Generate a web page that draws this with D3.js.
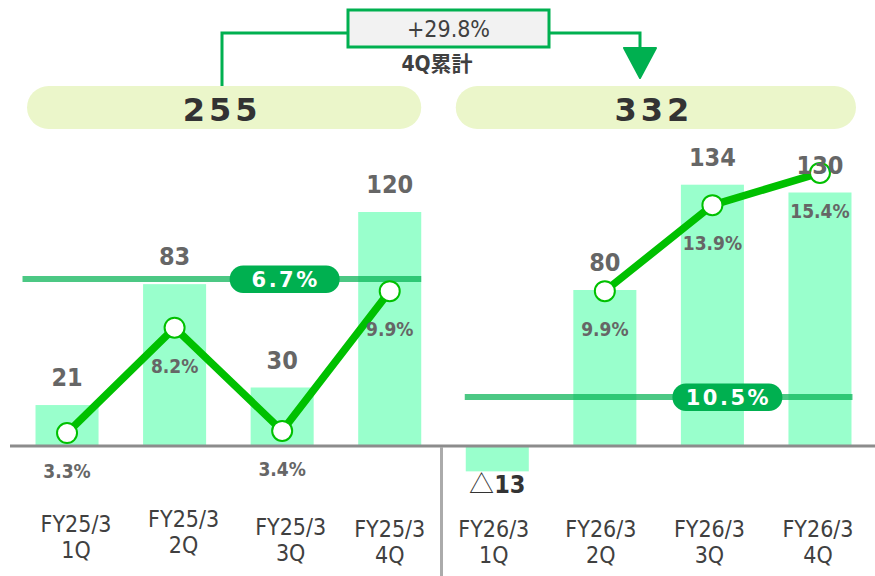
<!DOCTYPE html>
<html>
<head>
<meta charset="utf-8">
<script src="https://cdn.jsdelivr.net/npm/d3@7"></script>
<style>
  html, body { margin: 0; padding: 0; background: #fff; }
  svg { display: block; }
  .cond { font-family: "DejaVu Sans Condensed", "DejaVu Sans", sans-serif; font-stretch: condensed; }
</style>
</head>
<body>
<svg id="chart" width="875" height="576"></svg>
<script>
// ---------------- data ----------------
const periods  = ["FY25/3", "FY25/3", "FY25/3", "FY25/3", "FY26/3", "FY26/3", "FY26/3", "FY26/3"];
const quarters = ["1Q", "2Q", "3Q", "4Q", "1Q", "2Q", "3Q", "4Q"];
const profit   = [21, 83, 30, 120, -13, 80, 134, 130];
const margin   = [3.3, 8.2, 3.4, 9.9, null, 9.9, 13.9, 15.4];
const panelTotals    = [255, 332];
const panelAvgMargin = [6.7, 10.5];
const growthText = "+29.8%";
const cumText    = "4Q累計";

// ---------------- layout ----------------
const W = 875, H = 576;
const green = "#00b050", lineGreen = "#00c000", barColor = "#99ffcc";
const labelDx = [9, 9, 8.5, 0, -3.5, -4, -3, -2];
const labelDy = [86, 80.5, 88.5, 90.5, 90.5, 90.5, 90.5, 90.5];
const avgLineY = [279, 397];

const svg = d3.select("#chart");
const keys = profit.map((d, i) => i);

const x = d3.scaleBand().domain(keys).range([13.25, 873.75]).paddingInner(0.414).paddingOuter(0.207);
const yBar = d3.scaleLinear().domain([0, 140]).range([446, 173]);
const yPct = d3.scaleLinear().domain([0, 16]).range([504, 160]);
const cx = i => x(i) + x.bandwidth() / 2;
const y0 = yBar(0);

const panels = [[0, 1, 2, 3], [4, 5, 6, 7]];

// ---------------- banner pills ----------------
panels.forEach((p, k) => {
  const x1 = x(p[0]) - (k === 0 ? 8.5 : 10);
  const x2 = x(p[3]) + x.bandwidth() + (k === 0 ? 0 : 4.5);
  svg.append("rect").attr("x", x1).attr("y", 86).attr("width", x2 - x1).attr("height", 43)
    .attr("rx", 21.5).attr("fill", "#ebf6ca");
  svg.append("text").attr("x", (x1 + x2) / 2 - 2).attr("y", 121)
    .attr("text-anchor", "middle").attr("font-family", "DejaVu Sans, sans-serif")
    .attr("font-weight", "bold").attr("font-size", 32).attr("letter-spacing", 4)
    .attr("fill", "#333").text(panelTotals[k]);
});

// ---------------- top connector ----------------
const boxX1 = 348, boxX2 = 549, connY = 33;
const leftX = 222, rightX = 640;
svg.append("path")
  .attr("d", `M${leftX},86 V${connY} H${boxX1} M${boxX2},${connY} H${rightX} V50`)
  .attr("fill", "none").attr("stroke", green).attr("stroke-width", 3);
svg.append("path")
  .attr("d", `M${rightX - 16},48 L${rightX + 16},48 L${rightX},78 Z`)
  .attr("fill", green).attr("stroke", green).attr("stroke-width", 2).attr("stroke-linejoin", "round");
svg.append("rect").attr("x", boxX1).attr("y", 10).attr("width", boxX2 - boxX1).attr("height", 37)
  .attr("fill", "#f2f2f2").attr("stroke", green).attr("stroke-width", 3);
svg.append("text").attr("class", "cond").attr("x", (boxX1 + boxX2) / 2).attr("y", 37)
  .attr("text-anchor", "middle").attr("font-size", 23).attr("fill", "#404040").text(growthText);
svg.append("text").attr("x", 437).attr("y", 71).attr("text-anchor", "middle")
  .attr("font-family", "'DejaVu Sans Condensed', 'Noto Sans CJK JP', sans-serif")
  .attr("font-weight", "bold").attr("font-size", 21).attr("fill", "#404040").text(cumText);

// ---------------- bars ----------------
svg.append("g").selectAll("rect").data(profit).join("rect")
  .attr("x", (d, i) => x(i))
  .attr("width", x.bandwidth())
  .attr("y", d => d >= 0 ? yBar(d) : y0)
  .attr("height", d => Math.abs(yBar(d) - y0))
  .attr("fill", barColor);

// ---------------- average lines + pills ----------------
panels.forEach((p, k) => {
  const ly = avgLineY[k];
  const lx1 = k === 0 ? x(p[0]) - 13 : x(p[0]) - 1;
  const lx2 = x(p[3]) + x.bandwidth() + (k === 0 ? 0 : 1);
  svg.append("line").attr("x1", lx1).attr("x2", lx2).attr("y1", ly).attr("y2", ly)
    .attr("stroke", green).attr("stroke-opacity", 0.7).attr("stroke-width", 6);
  const pcx = cx(p[2]) + (k === 0 ? 2.5 : 15);
  svg.append("rect").attr("x", pcx - 55).attr("y", ly - 13.5).attr("width", 110).attr("height", 27.5)
    .attr("rx", 13.5).attr("fill", green);
  svg.append("text").attr("x", pcx + 1).attr("y", ly + 8)
    .attr("text-anchor", "middle").attr("font-family", "DejaVu Sans, sans-serif")
    .attr("font-weight", "bold").attr("font-size", 21).attr("letter-spacing", 2.5)
    .attr("fill", "#fff").text(panelAvgMargin[k].toFixed(1) + "%");
});

// ---------------- axis + divider ----------------
svg.append("line").attr("x1", 10).attr("x2", W).attr("y1", y0).attr("y2", y0)
  .attr("stroke", "#8c8c8c").attr("stroke-width", 3);
const divX = (cx(3) + cx(4)) / 2 - 2;
svg.append("line").attr("x1", divX).attr("x2", divX).attr("y1", y0 + 1).attr("y2", H)
  .attr("stroke", "#ababab").attr("stroke-width", 3);

// ---------------- margin line ----------------
const pts = margin.map((m, i) => ({ i, m }));
const line = d3.line().defined(d => d.m != null).x(d => cx(d.i)).y(d => yPct(d.m));
svg.append("path").datum(pts).attr("d", line)
  .attr("fill", "none").attr("stroke", lineGreen).attr("stroke-width", 7.5)
  .attr("stroke-linejoin", "round");
svg.append("g").selectAll("circle").data(pts.filter(d => d.m != null)).join("circle")
  .attr("cx", d => cx(d.i)).attr("cy", d => yPct(d.m)).attr("r", 10)
  .attr("fill", "#fff").attr("stroke", lineGreen).attr("stroke-width", 2);

// ---------------- margin labels ----------------
svg.append("g").selectAll("text").data(pts.filter(d => d.m != null)).join("text")
  .attr("class", "cond")
  .attr("x", d => cx(d.i)).attr("y", d => yPct(d.m) + 45)
  .attr("text-anchor", "middle").attr("font-weight", "bold").attr("font-size", 19)
  .attr("fill", "#666").text(d => d.m.toFixed(1) + "%");

// ---------------- value labels ----------------
const vl = svg.append("g").selectAll("text").data(profit).join("text")
  .attr("class", "cond")
  .attr("x", (d, i) => cx(i))
  .attr("y", d => d >= 0 ? yBar(d) - 19 : y0 + (y0 - yBar(-d)) + 22)
  .attr("text-anchor", "middle").attr("font-weight", "bold").attr("font-size", 25)
  .attr("fill", d => d >= 0 ? "#666" : "#333");
vl.each(function (d) {
  const t = d3.select(this);
  if (d >= 0) { t.text(d); }
  else {
    t.append("tspan").attr("font-family", "'Noto Sans CJK JP', sans-serif").attr("font-weight", "normal").text("△");
    t.append("tspan").text(Math.abs(d));
  }
});

// ---------------- category labels ----------------
const cl = svg.append("g").selectAll("text").data(keys).join("text")
  .attr("class", "cond")
  .attr("text-anchor", "middle").attr("font-size", 23).attr("fill", "#404040");
cl.append("tspan").attr("x", i => cx(i) + labelDx[i]).attr("y", i => y0 + labelDy[i]).text(i => periods[i]);
cl.append("tspan").attr("x", i => cx(i) + labelDx[i]).attr("y", i => y0 + labelDy[i] + 26).text(i => quarters[i]);
</script>
</body>
</html>
